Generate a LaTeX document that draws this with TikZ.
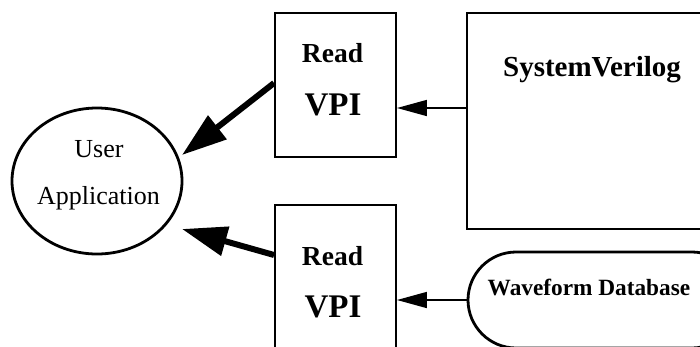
\documentclass[tikz,border=0pt]{standalone}
\usepackage{fontspec}
\setmainfont{Liberation Serif}
\usetikzlibrary{arrows.meta,shapes.geometric}
\begin{document}
\begin{tikzpicture}[x=1pt,y=-1pt,
  box/.style={draw,line width=1.9pt,inner sep=0pt},
  bigarrow/.style={line width=6pt,-{Triangle[length=45pt,width=29pt]}},
  smallarrow/.style={line width=1.6pt,-{Triangle[length=30pt,width=16pt]}},
  lbl/.style={anchor=base,inner sep=0pt}]
\useasboundingbox (0,0) rectangle (700,346);
\clip (0,0) rectangle (700,346);
% user application
\node[draw,ellipse,line width=2.8pt,minimum width=170pt,minimum height=146pt,inner sep=0pt] (ua) at (97,181) {};
\node[lbl,font=\fontsize{26}{30}\selectfont] (user) at (99,157) {User};
\node[lbl,font=\fontsize{26}{30}\selectfont] (app) at (98.5,204) {Application};
% read VPI boxes
\node[box,minimum width=121pt,minimum height=144pt] (readA) at (335.5,85) {};
\node[lbl,font=\fontsize{27.5}{30}\selectfont\bfseries] (readAt) at (332.5,62) {Read};
\node[lbl,font=\fontsize{33}{36}\selectfont\bfseries] (vpiAt) at (333,115) {VPI};
\node[box,minimum width=121pt,minimum height=150pt] (readB) at (335.5,280) {};
\node[lbl,font=\fontsize{27.5}{30}\selectfont\bfseries] (readBt) at (332.5,265) {Read};
\node[lbl,font=\fontsize{33}{36}\selectfont\bfseries] (vpiBt) at (333,317) {VPI};
% SystemVerilog
\node[box,minimum width=253pt,minimum height=216pt] (sv) at (593.5,121) {};
\node[lbl,font=\fontsize{29}{32}\selectfont\bfseries] (svt) at (592,76) {SystemVerilog};
% Waveform database
\node[draw,line width=2.8pt,inner sep=0pt,rounded corners=48pt,minimum width=272pt,minimum height=96pt] (wf) at (604,300) {};
\node[lbl,font=\fontsize{23.3}{26}\selectfont\bfseries] (wft) at (589,295) {Waveform Database};
% connectors
\coordinate (tipA) at ([shift={(85pt,26pt)}]ua.center);
\coordinate (tipB) at ([shift={(85pt,-48pt)}]ua.center);
\draw[bigarrow] ([yshift=2pt]readA.west) -- (tipA);
\draw[bigarrow] ([yshift=25pt]readB.west) -- (tipB);
\draw[smallarrow] ([yshift=13pt]sv.west) -- ([yshift=13pt]sv.west -| readA.east);
\draw[smallarrow] (wf.west) -- (wf.west -| readB.east);
\end{tikzpicture}
\end{document}
